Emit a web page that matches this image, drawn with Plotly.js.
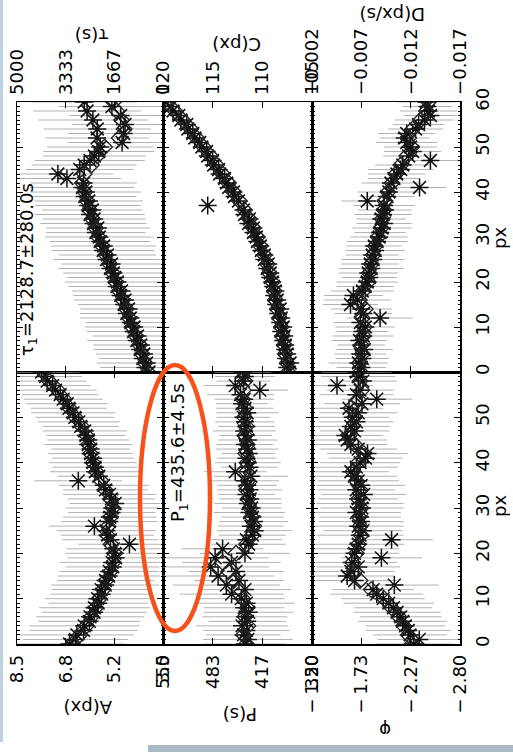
<!DOCTYPE html>
<html><head><meta charset="utf-8">
<script src="https://cdn.plot.ly/plotly-3.0.1.min.js"></script>
<style>html,body{margin:0;padding:0;background:#fff;}#chart{width:513px;height:752px;}</style>
</head><body><div id="chart"></div>
<script>
// ---------------- DATA ----------------
const px = [0,1,2,3,4,5,6,7,8,9,10,11,12,13,14,15,16,17,18,19,20,21,22,23,24,25,26,27,28,29,30,31,32,33,34,35,36,37,38,39,40,41,42,43,44,45,46,47,48,49,50,51,52,53,54,55,56,57,58,59,60];
const pxEven = [0,2,4,6,8,10,12,14,16,18,20,22,24,26,28,30,32,34,36,38,40,42,44,46,48,50,52,54,56,58,60];

// tau (s)
const tau = [480,600,560,690,650,780,760,900,870,1010,
  990,1100,1120,1240,1180,1330,1300,1450,1420,1580,
  1560,1650,1700,1800,1760,1930,1900,2050,2030,2150,
  2180,2300,2230,2380,2360,2500,2420,2560,2540,2680,
  2640,2760,2720,3290,3600,2850,2700,2500,2350,2200,
  2150,1400,2260,1350,2250,1300,2400,1450,2600,1750,
  2700];
const tauErr = [1600,1550,1700,1500,1650,1580,1620,1700,1540,1600,
  1680,1560,1720,1600,1650,1580,1750,1620,1700,1660,
  1800,1640,1720,1780,1700,1820,1660,1750,1800,1720,
  1850,1700,1780,1820,1760,1880,1720,1800,1850,1760,
  1900,1780,1820,1860,1900,1840,1800,1880,1760,1900,
  1820,1860,1780,1900,1840,1800,1880,1760,1850,1820,
  1800];
const tauD = [520,620,720,800,930,1060,1160,1260,1380,1500,1620,1720,1830,1960,2080,2220,2310,2420,2520,2600,2680,2760,2700,2450,2250,2000,1500,1330,1420,1580,1700];

// A (px)
const amp = [6.70,6.50,6.45,6.22,6.20,6.02,6.00,5.86,5.85,5.72,
  5.74,5.60,5.62,5.48,5.47,5.36,5.34,5.22,5.24,5.12,
  5.15,5.20,4.65,5.30,5.40,5.44,5.85,5.34,5.32,5.26,
  5.24,5.14,5.27,5.33,5.47,5.53,6.40,5.70,5.82,5.83,
  5.90,5.90,5.98,5.98,6.06,6.06,6.14,6.18,6.32,6.38,
  6.52,6.58,6.72,6.78,6.92,7.02,7.18,7.28,7.47,7.52,
  7.66];
const ampErr = [1.90,1.80,1.95,1.85,1.90,1.75,1.85,1.80,1.90,1.70,
  1.80,1.75,1.70,1.85,1.65,1.75,1.70,1.60,1.80,1.65,
  1.70,1.60,1.75,1.65,1.60,1.70,1.55,1.65,1.60,1.50,
  1.60,1.55,1.50,1.60,1.45,1.55,1.50,1.40,1.55,1.45,
  1.50,1.40,1.45,1.35,1.50,1.40,1.35,1.45,1.30,1.40,
  1.35,1.45,1.30,1.40,1.35,1.30,1.40,1.30,1.35,1.25,
  1.30];
const ampD = [6.60,6.35,6.12,5.95,5.80,5.68,5.55,5.45,5.30,5.20,5.15,5.28,5.40,5.38,5.30,5.22,5.30,5.48,5.62,5.78,5.90,5.98,6.05,6.12,6.28,6.50,6.70,6.88,7.10,7.40,7.60];

// C (px)
const cen = [107.3,107.5,107.2,107.6,107.5,107.7,107.7,107.9,107.8,108.1,
  107.9,108.2,108.1,108.4,108.2,108.6,108.5,108.8,108.7,108.9,
  109.0,109.2,109.2,109.5,109.4,109.8,109.8,110.1,110.2,110.5,
  110.6,110.9,110.9,111.4,111.3,111.8,111.9,115.5,112.4,112.8,
  112.9,113.4,113.6,113.8,114.3,114.4,114.9,115.0,115.5,115.6,
  116.1,116.3,116.8,117.0,117.5,117.6,118.2,118.4,119.0,119.2,
  119.8];
const cenErr = [0.30,0.25,0.35,0.30,0.28,0.32,0.30,0.26,0.34,0.30,
  0.28,0.33,0.27,0.31,0.29,0.35,0.26,0.30,0.32,0.28,
  0.31,0.27,0.33,0.29,0.30,0.34,0.28,0.31,0.26,0.30,
  0.32,0.29,0.27,0.33,0.30,0.28,0.34,0.31,0.29,0.27,
  0.30,0.33,0.28,0.32,0.26,0.31,0.29,0.34,0.30,0.27,
  0.32,0.28,0.31,0.30,0.33,0.27,0.29,0.32,0.30,0.28,
  0.31];
const cenD = [107.4,107.5,107.7,107.8,108.0,108.1,108.3,108.5,108.7,108.8,109.0,109.3,109.5,109.8,110.2,110.5,110.9,111.3,111.8,112.3,112.9,113.4,114.0,114.6,115.2,115.9,116.6,117.2,118.0,118.8,119.6];

// P (s)
const per = [440,436,442,438,444,437,440,435,441,438,
  445,458,440,465,448,476,452,486,458,480,
  440,470,435,438,430,427,432,428,430,434,
  431,436,433,438,434,437,440,432,453,434,
  436,438,435,437,440,436,439,441,438,440,
  442,437,440,444,441,446,420,453,442,440,
  443];
const perErr = [55,60,50,58,62,52,57,60,54,65,
  58,70,62,72,60,75,64,78,66,72,
  60,55,50,48,45,50,44,46,42,48,
  40,45,42,38,44,40,46,50,42,38,
  44,40,36,42,38,40,35,42,38,40,
  36,42,38,35,40,45,38,42,36,40,
  38];
const perD = [438,442,436,440,437,443,447,455,462,470,452,438,430,428,431,433,436,438,436,438,437,439,437,440,438,441,440,443,442,440,442];

// D (px/s)
const drift = [-0.0068,-0.0070,-0.0067,-0.0071,-0.0069,-0.0073,-0.0070,-0.0068,-0.0072,-0.0071,
  -0.0074,-0.0069,-0.0089,-0.0072,-0.0070,-0.0059,-0.0066,-0.0062,-0.0071,-0.0074,
  -0.0076,-0.0078,-0.0077,-0.0080,-0.0079,-0.0082,-0.0081,-0.0084,-0.0083,-0.0086,
  -0.0088,-0.0089,-0.0091,-0.0093,-0.0090,-0.0092,-0.0094,-0.0093,-0.0076,-0.0096,
  -0.0098,-0.0129,-0.0100,-0.0103,-0.0106,-0.0110,-0.0112,-0.0140,-0.0118,-0.0122,
  -0.0120,-0.0116,-0.0114,-0.0116,-0.0125,-0.0128,-0.0134,-0.0140,-0.0138,-0.0137,
  -0.0136];
const driftErr = [0.0028,0.0025,0.0030,0.0027,0.0026,0.0029,0.0024,0.0028,0.0031,0.0026,
  0.0030,0.0027,0.0033,0.0029,0.0031,0.0028,0.0034,0.0030,0.0032,0.0029,
  0.0031,0.0028,0.0030,0.0033,0.0029,0.0032,0.0027,0.0030,0.0028,0.0031,
  0.0029,0.0026,0.0030,0.0028,0.0025,0.0029,0.0027,0.0031,0.0026,0.0028,
  0.0032,0.0027,0.0030,0.0026,0.0029,0.0033,0.0028,0.0030,0.0026,0.0029,
  0.0027,0.0031,0.0025,0.0029,0.0028,0.0026,0.0030,0.0027,0.0029,0.0025,
  0.0028];
const driftD = [-0.0069,-0.0068,-0.0071,-0.0070,-0.0072,-0.0073,-0.0071,-0.0074,-0.0068,-0.0072,-0.0077,-0.0078,-0.0080,-0.0082,-0.0084,-0.0087,-0.0090,-0.0091,-0.0093,-0.0094,-0.0097,-0.0101,-0.0105,-0.0110,-0.0116,-0.0121,-0.0118,-0.0122,-0.0130,-0.0136,-0.0138];

// phi
const phase = [-2.30,-2.36,-2.26,-2.24,-2.21,-2.18,-2.16,-2.12,-2.08,-2.03,
  -1.97,-1.90,-1.86,-2.09,-1.66,-1.58,-1.62,-1.70,-1.63,-1.95,
  -1.66,-1.68,-1.70,-2.06,-1.72,-1.75,-1.70,-1.73,-1.72,-1.68,
  -1.74,-1.72,-1.70,-1.76,-1.68,-1.73,-1.70,-1.66,-1.62,-1.68,
  -1.72,-1.78,-1.80,-1.70,-1.62,-1.58,-1.56,-1.66,-1.62,-1.68,
  -1.64,-1.70,-1.60,-1.74,-1.90,-1.68,-1.72,-1.47,-1.75,-1.70,
  -1.68];
const phaseErr = [0.42,0.45,0.40,0.46,0.43,0.48,0.44,0.47,0.42,0.49,
  0.45,0.50,0.44,0.48,0.46,0.51,0.47,0.45,0.49,0.44,
  0.48,0.46,0.50,0.45,0.47,0.43,0.49,0.46,0.44,0.48,
  0.45,0.47,0.43,0.46,0.42,0.48,0.44,0.46,0.41,0.45,
  0.43,0.40,0.44,0.42,0.39,0.43,0.41,0.38,0.42,0.40,
  0.39,0.42,0.37,0.41,0.38,0.40,0.36,0.39,0.37,0.40,
  0.38];
const phaseD = [-2.28,-2.24,-2.19,-2.14,-2.06,-1.98,-1.84,-1.72,-1.66,-1.64,-1.68,-1.70,-1.73,-1.72,-1.71,-1.73,-1.70,-1.72,-1.68,-1.64,-1.70,-1.76,-1.66,-1.60,-1.64,-1.66,-1.62,-1.70,-1.74,-1.72,-1.70];

// tick labels
const tauTicks = [0,1666.7,3333.3,5000], tauTickText = ['0','1667','3333','5000'];
const cenTicks = [105,110,115,120], cenTickText = ['105','110','115','120'];
const driftTicks = [-0.017,-0.012,-0.007,-0.002], driftTickText = ['\u22120.017','\u22120.012','\u22120.007','\u22120.002'];
const ampTicks = [3.5,5.1667,6.8333,8.5], ampTickText = ['3.5','5.2','6.8','8.5'];
const perTicks = [350,416.67,483.33,550], perTickText = ['350','417','483','550'];
const phaseTicks = [-2.8,-2.2667,-1.7333,-1.2], phaseTickText = ['\u2212\u20092.80','\u2212\u20092.27','\u2212\u20091.73','\u2212\u20091.20'];
const pxTicksTop = [0,10,20,30,40,50,60], pxTicksBottom = [0,10,20,30,40,50];

const fitTau = 'τ<sub>1</sub>=2128.7±280.0s';
const fitPer = 'P<sub>1</sub>=435.6±4.5s';

// ---------------- LAYOUT HELPERS ----------------
const L = 17, R = 460, T = 102, B = 644;
const fx = p => (p - L) / (R - L);
const fy = p => (B - p) / (B - T);
const colEdges = [17, 163, 312, 460];
const rowEdges = [102, 372, 644];
const FONT = 'DejaVu Sans, sans-serif';

const panels = [
  {x: tau, e: tauErr, d: tauD, range: [5000, 0], tv: tauTicks, tt: tauTickText, col: 0, row: 0},
  {x: cen, e: cenErr, d: cenD, range: [120, 105], tv: cenTicks, tt: cenTickText, col: 1, row: 0},
  {x: drift, e: driftErr, d: driftD, range: [-0.002, -0.017], tv: driftTicks, tt: driftTickText, col: 2, row: 0},
  {x: amp, e: ampErr, d: ampD, range: [8.5, 3.5], tv: ampTicks, tt: ampTickText, col: 0, row: 1},
  {x: per, e: perErr, d: perD, range: [550, 350], tv: perTicks, tt: perTickText, col: 1, row: 1},
  {x: phase, e: phaseErr, d: phaseD, range: [-1.2, -2.8], tv: phaseTicks, tt: phaseTickText, col: 2, row: 1}
];

const traces = [];
const layout = {
  width: 513, height: 752, autosize: false,
  margin: {l: L, r: 513 - R, t: T, b: 752 - B, pad: 0},
  paper_bgcolor: '#fff', plot_bgcolor: '#fff',
  showlegend: false, hovermode: false,
  font: {family: FONT, size: 18, color: '#000'},
  annotations: [], shapes: []
};

panels.forEach((p, i) => {
  const n = i + 1;
  const xa = 'x' + (n === 1 ? '' : n), ya = 'y' + (n === 1 ? '' : n);
  traces.push({
    type: 'scatter', mode: 'markers', x: p.x, y: px, xaxis: xa, yaxis: ya,
    marker: {symbol: 'asterisk-open', size: 15, color: '#111', line: {width: 1.5, color: '#151515'}},
    error_x: {type: 'data', array: p.e, visible: true, color: '#b3b3b3', thickness: 1, width: 0}
  });
  traces.push({
    type: 'scatter', mode: 'markers', x: p.d, y: pxEven, xaxis: xa, yaxis: ya,
    marker: {symbol: 'diamond-open', size: 12, color: '#222', line: {width: 1.3, color: '#222'}}
  });
  const xdom = [fx(colEdges[p.col]), fx(colEdges[p.col + 1])];
  const ydom = [fy(rowEdges[p.row + 1]), fy(rowEdges[p.row])];
  layout['xaxis' + (n === 1 ? '' : n)] = {
    domain: xdom, anchor: ya, side: p.row === 0 ? 'top' : 'bottom',
    range: p.range, tickmode: 'array', tickvals: p.tv, ticktext: p.tt,
    tickangle: -90, ticks: 'inside', ticklen: 6, tickwidth: 1, tickcolor: '#000',
    showline: true, linecolor: '#000', linewidth: 1.5, mirror: 'ticks',
    showgrid: false, zeroline: false, ticklabelstandoff: 2,
    tickfont: {family: FONT, size: 18, color: '#000'}
  };
  layout['yaxis' + (n === 1 ? '' : n)] = {
    domain: ydom, anchor: xa, side: 'right', range: [0, 60],
    tickmode: 'array', tickvals: p.row === 0 ? pxTicksTop : pxTicksBottom,
    ticktext: (p.row === 0 ? pxTicksTop : pxTicksBottom).map(String),
    showticklabels: p.col === 2, tickangle: -90,
    ticks: 'inside', ticklen: 6, tickwidth: 1, tickcolor: '#000',
    minor: {dtick: 1, tick0: 0, ticks: 'inside', ticklen: 2.5, tickcolor: '#000', showgrid: false},
    showline: true, linecolor: '#000', linewidth: 1.5, mirror: 'ticks',
    showgrid: false, zeroline: false, ticklabelstandoff: 6,
    tickfont: {family: FONT, size: 18, color: '#000'}
  };
});

function ann(text, xp, yp, angle, size) {
  layout.annotations.push({
    text: text, xref: 'paper', yref: 'paper', x: fx(xp), y: fy(yp),
    xanchor: 'center', yanchor: 'middle', showarrow: false, textangle: angle,
    font: {family: FONT, size: size || 18, color: '#000'}
  });
}
// axis titles (upside down, as in the rotated figure)
ann('τ(s)', 92, 36, 180);
ann('C(px)', 237, 44, 180);
ann('D(px/s)', 393, 15, 180);
ann('A(px)', 88, 708, 180);
ann('P(s)', 240, 715, 180);
ann('φ', 385, 731, 180);
ann('px', 499, 238, -90);
ann('px', 499, 506, -90);
// fit results
ann(fitTau, 28, 270, -90);
ann(fitPer, 179, 453, -90);

// highlight ellipse
layout.shapes.push({type: 'circle', xref: 'paper', yref: 'paper',
  x0: fx(140), x1: fx(210), y0: fy(631), y1: fy(365),
  line: {color: '#f4511b', width: 4.5}, fillcolor: 'rgba(0,0,0,0)'});
// page decorations
layout.shapes.push({type: 'rect', xref: 'paper', yref: 'paper',
  x0: fx(0), x1: fx(3), y0: fy(742), y1: fy(0),
  line: {width: 0}, fillcolor: '#bcd2e2', layer: 'below'});
layout.shapes.push({type: 'rect', xref: 'paper', yref: 'paper',
  x0: fx(148), x1: fx(513), y0: fy(752), y1: fy(745),
  line: {width: 0}, fillcolor: '#a9b9c6', layer: 'below'});

Plotly.newPlot('chart', traces, layout, {staticPlot: true, displayModeBar: false});
</script>
</body></html>
